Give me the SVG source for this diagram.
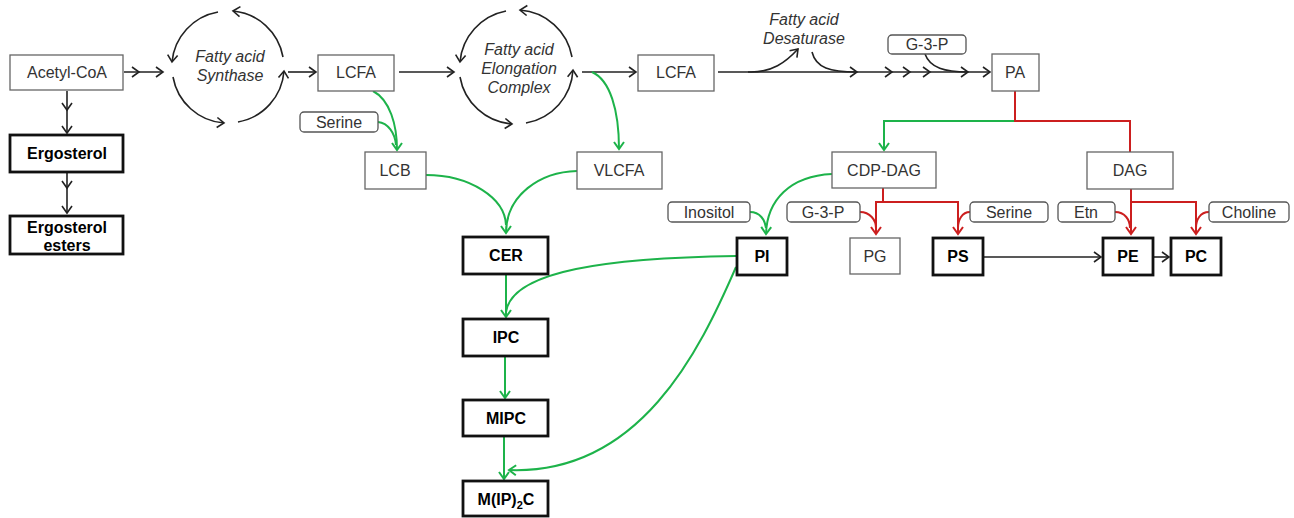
<svg xmlns="http://www.w3.org/2000/svg" width="1294" height="518" viewBox="0 0 1294 518">
<style>
text{font-family:"Liberation Sans",Arial,sans-serif;font-size:16px;text-anchor:middle;fill:#333}
.b{font-weight:bold;fill:#000}
.i{font-style:italic}
.thin{fill:#fff;stroke:#666;stroke-width:1.3}
.thick{fill:#fff;stroke:#111;stroke-width:2.8}
.lbl{fill:#fff;stroke:#555;stroke-width:1.3}
.k{fill:none;stroke:#222;stroke-width:1.6}
.g{fill:none;stroke:#1db34a;stroke-width:2}
.r{fill:none;stroke:#cc1f1f;stroke-width:2}
.ka{marker-end:url(#mk)}
.km{marker-mid:url(#mk);marker-end:url(#mk)}
.ga{marker-end:url(#mg)}
.ra{marker-end:url(#mr)}
</style>
<defs>
<marker id="mk" viewBox="-9 -7 11 14" refX="0" refY="0" markerWidth="11" markerHeight="14" markerUnits="userSpaceOnUse" orient="auto"><path d="M-7,-5 L0,0 L-7,5" fill="none" stroke="#222" stroke-width="1.6"/></marker>
<marker id="mg" viewBox="-9 -7 11 14" refX="0" refY="0" markerWidth="11" markerHeight="14" markerUnits="userSpaceOnUse" orient="auto"><path d="M-7,-5 L0,0 L-7,5" fill="none" stroke="#1db34a" stroke-width="2"/></marker>
<marker id="mr" viewBox="-9 -7 11 14" refX="0" refY="0" markerWidth="11" markerHeight="14" markerUnits="userSpaceOnUse" orient="auto"><path d="M-7,-5 L0,0 L-7,5" fill="none" stroke="#cc1f1f" stroke-width="2"/></marker>
</defs>
<rect width="1294" height="518" fill="#fff"/>
<g id="connectors">
<!-- black -->
<polyline class="k km" points="124,72 139,72 163,72"/>
<polyline class="k km" points="67,91 67,110 67,133"/>
<polyline class="k km" points="67,173 67,188 67,213"/>
<line class="k ka" x1="288" y1="72" x2="316" y2="72"/>
<line class="k ka" x1="399" y1="72" x2="454" y2="72"/>
<line class="k ka" x1="582" y1="72" x2="636" y2="72"/>
<polyline class="k km" points="718,72 857,72 892,72 910,72 930,72 968,72 990,72"/>
<path class="k ka" d="M748,72 C772,73 786,62 798,49"/>
<path class="k" d="M812,52 C816,68 830,72 857,72"/>
<path class="k" d="M925,54 C930,68 945,72 968,72"/>
<line class="k ka" x1="984" y1="257" x2="1101" y2="257"/>
<line class="k ka" x1="1153" y1="257" x2="1169" y2="257"/>
<!-- FAS circle arcs -->
<path class="k ka" d="M283,57 A56,56 0 0,0 233,11"/>
<path class="k ka" d="M218,12 A56,56 0 0,0 172,62"/>
<path class="k ka" d="M173,77 A56,56 0 0,0 224,123"/>
<path class="k ka" d="M238,122 A56,56 0 0,0 284,71"/>
<!-- Elongation circle arcs -->
<path class="k ka" d="M572,57 A57,57 0 0,0 520,10"/>
<path class="k ka" d="M506,11 A57,57 0 0,0 460,62"/>
<path class="k ka" d="M460,77 A57,57 0 0,0 512,124"/>
<path class="k ka" d="M526,123 A57,57 0 0,0 573,70"/>
<!-- green -->
<path class="g ga" d="M373,91 C390,100 397,125 397,150"/>
<path class="g" d="M378,122 C388,123 395,133 396,145"/>
<path class="g" d="M426,175 C470,175 505,198 506,225"/>
<path class="g ga" d="M577,171 C540,172 506,195 506,233"/>
<path class="g ga" d="M592,72 C610,80 619,110 619,149"/>
<line class="g ga" x1="506" y1="275" x2="506" y2="317"/>
<path class="g" d="M736,256 C610,258 512,270 506,312"/>
<line class="g ga" x1="505" y1="357" x2="505" y2="398"/>
<line class="g ga" x1="504" y1="437" x2="504" y2="479"/>
<path class="g ga" d="M736,267 C700,350 640,475 509,470"/>
<path class="g ga" d="M832,174 C790,176 767,200 766,234"/>
<path class="g" d="M750,212 C760,212 765,220 766,228"/>
<polyline class="g ga" points="1015,121 884,121 884,150"/>
<!-- red -->
<polyline class="r" points="1015,91 1015,121 1130,121 1130,152"/>
<line class="r" x1="883" y1="188" x2="883" y2="202"/>
<polyline class="r ra" points="958,234 958,202 876,202 876,234"/>
<line class="r ra" x1="958" y1="202" x2="958" y2="234"/>
<path class="r" d="M860,212 C870,212 876,220 876,228"/>
<path class="r" d="M970,212 C962,212 958,220 958,228"/>
<line class="r ra" x1="1131" y1="189" x2="1131" y2="234"/>
<polyline class="r ra" points="1131,202 1196,202 1196,234"/>
<path class="r" d="M1115,212 C1125,212 1130,220 1130,228"/>
<path class="r" d="M1209,212 C1200,212 1196,220 1196,228"/>
</g>
<g id="acetylcoa"><rect class="thin" x="10" y="55" width="113" height="35"/><text x="67" y="78">Acetyl-CoA</text></g>
<g id="ergosterol"><rect class="thick" x="10" y="135" width="113" height="37"/><text class="b" x="67" y="159">Ergosterol</text></g>
<g id="ergosterol-esters"><rect class="thick" x="10" y="216" width="113" height="38"/><text class="b" x="67" y="233">Ergosterol</text><text class="b" x="67" y="251">esters</text></g>
<g id="fas"><text class="i" x="230" y="62">Fatty acid</text><text class="i" x="230" y="81">Synthase</text></g>
<g id="lcfa1"><rect class="thin" x="318" y="55" width="76" height="36"/><text x="356" y="78">LCFA</text></g>
<g id="elongation"><text class="i" x="519" y="55">Fatty acid</text><text class="i" x="519" y="74">Elongation</text><text class="i" x="519" y="93">Complex</text></g>
<g id="lcfa2"><rect class="thin" x="638" y="55" width="76" height="36"/><text x="676" y="78">LCFA</text></g>
<g id="desaturase"><text class="i" x="804" y="25">Fatty acid</text><text class="i" x="804" y="44">Desaturase</text></g>
<g id="g3p-top"><rect class="lbl" x="888" y="35" width="78" height="19" rx="4"/><text x="927" y="50">G-3-P</text></g>
<g id="pa"><rect class="thin" x="992" y="54" width="47" height="37"/><text x="1015" y="78">PA</text></g>
<g id="serine-left"><rect class="lbl" x="300" y="112" width="78" height="20" rx="4"/><text x="339" y="128">Serine</text></g>
<g id="lcb"><rect class="thin" x="365" y="152" width="61" height="37"/><text x="395" y="176">LCB</text></g>
<g id="vlcfa"><rect class="thin" x="577" y="152" width="85" height="37"/><text x="619" y="176">VLCFA</text></g>
<g id="cdp-dag"><rect class="thin" x="832" y="152" width="104" height="36"/><text x="884" y="176">CDP-DAG</text></g>
<g id="dag"><rect class="thin" x="1087" y="152" width="86" height="37"/><text x="1130" y="176">DAG</text></g>
<g id="cer"><rect class="thick" x="463" y="237" width="85" height="37"/><text class="b" x="506" y="261">CER</text></g>
<g id="ipc"><rect class="thick" x="463" y="319" width="85" height="37"/><text class="b" x="506" y="343">IPC</text></g>
<g id="mipc"><rect class="thick" x="463" y="400" width="85" height="36"/><text class="b" x="506" y="424">MIPC</text></g>
<g id="mip2c"><rect class="thick" x="463" y="481" width="85" height="35"/><text class="b" x="506" y="505">M(IP)<tspan font-size="11" dy="4">2</tspan><tspan dy="-4">C</tspan></text></g>
<g id="pi"><rect class="thick" x="737" y="238" width="50" height="37"/><text class="b" x="762" y="262">PI</text></g>
<g id="pg"><rect class="thin" x="850" y="238" width="50" height="36"/><text x="875" y="262">PG</text></g>
<g id="ps"><rect class="thick" x="933" y="238" width="50" height="37"/><text class="b" x="958" y="262">PS</text></g>
<g id="pe"><rect class="thick" x="1103" y="238" width="50" height="37"/><text class="b" x="1128" y="262">PE</text></g>
<g id="pc"><rect class="thick" x="1171" y="238" width="50" height="37"/><text class="b" x="1196" y="262">PC</text></g>
<g id="inositol"><rect class="lbl" x="668" y="202" width="82" height="20" rx="4"/><text x="709" y="218">Inositol</text></g>
<g id="g3p-bottom"><rect class="lbl" x="787" y="202" width="73" height="20" rx="4"/><text x="823" y="218">G-3-P</text></g>
<g id="serine-right"><rect class="lbl" x="970" y="202" width="78" height="20" rx="4"/><text x="1009" y="218">Serine</text></g>
<g id="etn"><rect class="lbl" x="1058" y="202" width="57" height="20" rx="4"/><text x="1086" y="218">Etn</text></g>
<g id="choline"><rect class="lbl" x="1209" y="202" width="80" height="20" rx="4"/><text x="1249" y="218">Choline</text></g>
</svg>
